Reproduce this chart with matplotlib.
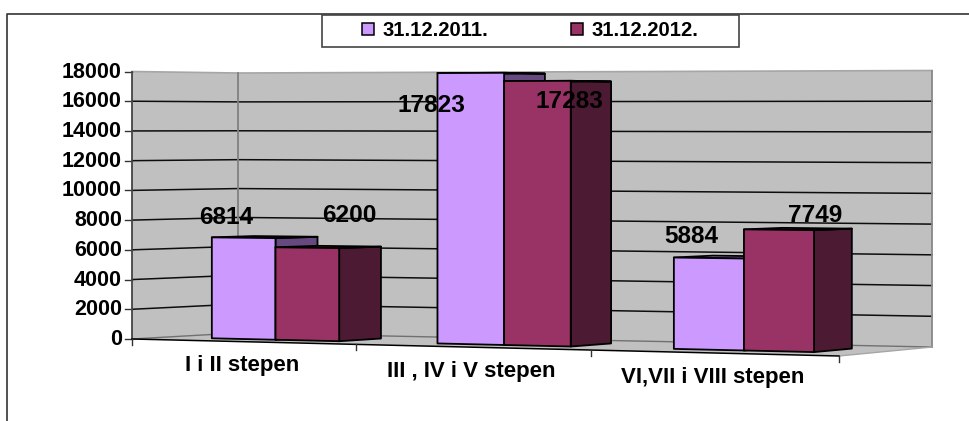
import numpy as np
import matplotlib
matplotlib.use("Agg")
import matplotlib.pyplot as plt
from matplotlib.patches import Polygon, Rectangle, Patch

categories = ["I i II stepen", "III , IV i V stepen", "VI,VII i VIII stepen"]
series_names = ["31.12.2011.", "31.12.2012."]
values_2011 = [6814, 17823, 5884]
values_2012 = [6200, 17283, 7749]
y_ticks = [0, 2000, 4000, 6000, 8000, 10000, 12000, 14000, 16000, 18000]
y_max = 18000

# colours
front_cols = ["#cc99ff", "#993366"]
side_cols = ["#664a7f", "#4d1a33"]
top_cols = ["#b288e0", "#7f2a55"]
wall = "#c0c0c0"

# 3-D projection of the Excel-like chart box, in figure pixels
front_x = [132, 356, 591, 839]
back_x = [238, 460, 691, 932]
front_y0, front_y1 = 339.0, 356.0
back_y0, back_y1 = 333.0, 347.0
H = {"fl": 267.5, "fr": 288.0, "bl": 260.0, "br": 276.5}
D0, D1 = 0.30, 0.70
BAR_HALF = 0.285


def project(u, d, v=0.0):
    fx = np.interp(u, [0, 1, 2, 3], front_x)
    bx = np.interp(u, [0, 1, 2, 3], back_x)
    fy = front_y0 + (front_y1 - front_y0) * (fx - front_x[0]) / (front_x[-1] - front_x[0])
    by = back_y0 + (back_y1 - back_y0) * (bx - back_x[0]) / (back_x[-1] - back_x[0])
    x = fx + (bx - fx) * d
    y = fy + (by - fy) * d
    t = u / 3.0
    h = (1 - d) * ((1 - t) * H["fl"] + t * H["fr"]) + d * ((1 - t) * H["bl"] + t * H["br"])
    return x, y - h * v / y_max


fig = plt.figure(figsize=(9.69, 4.21), dpi=100)
ax = fig.add_axes([0, 0, 1, 1])
ax.set_xlim(0, 969)
ax.set_ylim(421, 0)
ax.axis("off")
plt.rcParams["font.family"] = ["Liberation Sans", "DejaVu Sans"]
FONT = dict(family="Liberation Sans", weight="bold", color="black")

# chart frame
ax.plot([7.5, 7.5, 969], [421, 14, 14], color="#333333", lw=1.2, zorder=1)

# walls and floor
P = project
ax.add_patch(Polygon([P(0, 0), P(0, 1), P(0, 1, y_max), P(0, 0, y_max)], fc=wall, ec="none", zorder=2))
ax.add_patch(Polygon([P(0, 1), P(3, 1), P(3, 1, y_max), P(0, 1, y_max)], fc=wall, ec="none", zorder=2))
ax.add_patch(Polygon([P(0, 0), P(3, 0), P(3, 1), P(0, 1)], fc=wall, ec="none", zorder=2))

# gridlines
for v in y_ticks:
    xs, ys = zip(P(0, 0, v), P(0, 1, v), P(3, 1, v))
    if v == y_max:
        c, lw = "#a6a6a6", 1.2
    elif v == 0:
        c, lw = "#707070", 1.0
    else:
        c, lw = "#0d0d0d", 1.1
    ax.plot(xs, ys, color=c, lw=lw, zorder=3)
    x0, y0 = P(0, 0, v)
    ax.plot([x0 - 7, x0], [y0, y0], color="#333333", lw=1.0, zorder=3)
    ax.text(x0 - 10, y0 + 0.5, str(v), ha="right", va="center", fontsize=15.5, **FONT, zorder=8)

# box edges
ax.plot(*zip(P(0, 0), P(0, 0, y_max)), color="#444444", lw=1.3, zorder=3)
ax.plot(*zip(P(0, 1), P(0, 1, y_max)), color="#808080", lw=1.3, zorder=3)
ax.plot(*zip(P(3, 1), P(3, 1, y_max)), color="#888888", lw=1.3, zorder=3)
ax.plot(*zip(P(3, 0), P(3, 1)), color="#a6a6a6", lw=1.0, zorder=3)
ax.plot(*zip(P(0, 0), P(3, 0)), color="black", lw=1.1, zorder=3)
for i in range(4):
    x0, y0 = P(i, 0)
    ax.plot([x0, x0], [y0, y0 + 6], color="#333333", lw=1.0, zorder=3)


def draw_bar(u0, u1, v, s, z):
    ek = dict(ec="black", lw=1.3, joinstyle="round", zorder=z)
    ax.add_patch(Polygon([P(u1, D0), P(u1, D1), P(u1, D1, v), P(u1, D0, v)], fc=side_cols[s], **ek))
    ax.add_patch(Polygon([P(u0, D0, v), P(u1, D0, v), P(u1, D1, v), P(u0, D1, v)], fc=top_cols[s], **ek))
    ax.add_patch(Polygon([P(u0, D0), P(u1, D0), P(u1, D0, v), P(u0, D0, v)], fc=front_cols[s], **ek))


for i in range(len(categories)):
    c = i + 0.5
    draw_bar(c - BAR_HALF, c, values_2011[i], 0, 4)
    draw_bar(c, c + BAR_HALF, values_2012[i], 1, 5)
    x_mid = (front_x[i] + front_x[i + 1]) / 2
    _, y_mid = P(c, 0)
    ax.text(x_mid - 2, y_mid + 24, categories[i], ha="center", va="center", fontsize=16, **FONT, zorder=8)

# data labels
label_xy = [(226, 217), (349, 215), (431.5, 105), (569, 101.5), (691, 236.5), (815, 215)]
label_vals = [values_2011[0], values_2012[0], values_2011[1], values_2012[1], values_2011[2], values_2012[2]]
for (lx, ly), val in zip(label_xy, label_vals):
    ax.text(lx, ly, str(val), ha="center", va="center", fontsize=17.6, **FONT, zorder=9)

# legend
ax.add_patch(Rectangle((322, 15), 417, 32, fc="white", ec="#444444", lw=1.2, zorder=6))
handles = [Patch(fc=front_cols[i], ec="black", lw=1.1, label=series_names[i]) for i in range(2)]
leg = ax.legend(handles=handles, ncol=2, loc="center left", bbox_to_anchor=(362, 30.5),
                bbox_transform=ax.transData, frameon=False, borderpad=0, borderaxespad=0,
                handlelength=0.6, handleheight=0.55, handletextpad=0.4, columnspacing=4.1,
                prop=dict(family="Liberation Sans", weight="bold", size=14.6))
leg.set_zorder(7)

fig.savefig("out.png", dpi=100)
